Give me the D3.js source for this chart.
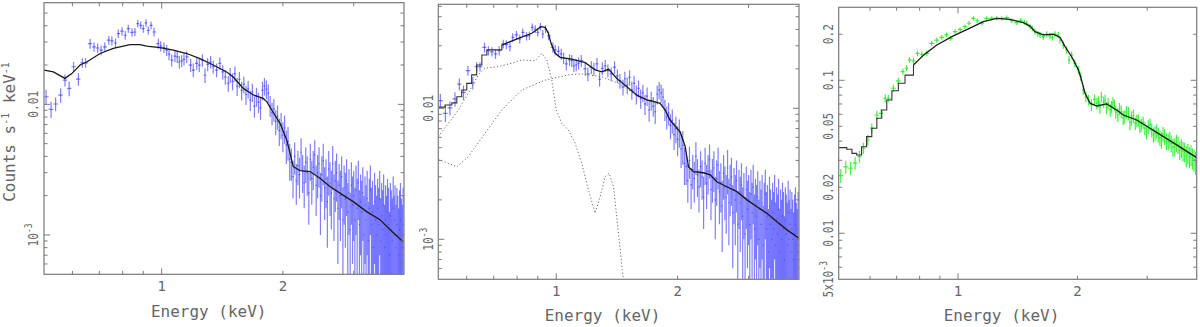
<!DOCTYPE html>
<html><head><meta charset="utf-8">
<script src="https://cdn.jsdelivr.net/npm/d3@7"></script>
<style>body{margin:0;background:#fff}svg{display:block}</style>
</head><body><script>
// ---------------- DATA ----------------
// shared spectrum (panels 1 and 2): energy (keV), counts s^-1 keV^-1, 1-sigma error
const energy12 = [0.516,0.531,0.545,0.561,0.575,0.589,0.604,0.621,0.635,0.647,0.664,0.679,0.693,0.707,0.722,0.739,0.752,0.768,0.780,0.797,0.812,0.826,0.844,0.858,0.872,0.887,0.900,0.914,0.926,0.941,0.957,0.981,0.994,1.013,1.029,1.043,1.059,1.079,1.093,1.106,1.121,1.136,1.154,1.180,1.198,1.222,1.240,1.262,1.281,1.301,1.323,1.343,1.369,1.395,1.418,1.439,1.464,
1.48,1.50,1.52,1.54,1.56,1.58,1.60,1.62,1.64,1.66,1.68,1.70,1.72,1.74,1.76,1.78,1.80,1.82,1.84,1.86,1.88,1.90,1.92,1.94,1.96,1.98,2.00,2.02,2.04,2.06,2.08,
2.10,2.12,2.14,2.16,2.18,2.20,2.22,2.24,2.26,2.28,2.30,2.32,2.34,2.36,2.38,2.40,2.42,2.44,2.46,2.48,2.50,2.52,2.54,2.56,2.58,2.60,2.62,2.64,2.66,2.68,2.70,2.72,2.74,2.76,2.78,2.80,2.82,2.84,2.86,2.88,2.90,2.92,2.94,2.96,2.98,3.00,3.02,3.04,3.06,3.08,3.10,3.12,3.14,3.16,3.18,3.20,3.22,3.24,3.26,3.28,3.30,3.32,3.34,3.36,3.38,3.40,3.42,3.44,3.46,3.48,3.50,3.52,3.54,3.56,3.58,3.60,3.62,3.64,3.66,3.68,3.70,3.72,3.74,3.76,3.78,3.80,3.82,3.84,3.86,3.88,3.90,3.92,3.94,3.96,3.98];
const counts12 = [0.01143,0.00916,0.01006,0.01178,0.0153,0.01325,0.0194,0.0156,0.0208,0.0208,0.0292,0.0275,0.027,0.026,0.0275,0.031,0.0306,0.0295,0.0348,0.0363,0.0338,0.038,0.0355,0.0358,0.0415,0.0403,0.038,0.042,0.0369,0.0403,0.0358,0.0292,0.0279,0.0272,0.026,0.0242,0.0218,0.0234,0.0231,0.0211,0.0215,0.0221,0.0231,0.020,0.0183,0.0206,0.020,0.0218,0.0167,0.0202,0.0211,0.0194,0.0183,0.0206,0.0177,0.0162,0.0145,
0.0168,0.0150,0.0172,0.0138,0.0155,0.0128,0.0142,0.0119,0.0131,0.0108,0.0124,0.0097,0.0115,0.0104,0.0094,0.0128,0.0138,0.0131,0.0122,0.0098,0.0086,0.0092,0.0074,0.0081,0.0063,0.0070,0.0058,0.0066,0.0049,0.0052,0.0038,
0.0036,0.0028,0.0040,0.0026,0.0034,0.0029,0.0043,0.0031,0.0025,0.0036,0.0030,0.0021,0.0038,0.0027,0.0033,0.0041,0.0024,0.0030,0.0035,0.0020,0.0029,0.0037,0.0023,0.0027,0.0018,0.0032,0.0025,0.0021,0.0035,0.0019,0.0026,0.0030,0.0016,0.0024,0.0020,0.0028,0.0013,0.0023,0.0019,0.0026,0.0015,0.0021,0.0011,0.0024,0.0017,0.0020,0.0013,0.0022,0.0016,0.0025,0.0012,0.0018,0.0015,0.0021,0.0010,0.0017,0.0013,0.0019,0.0009,0.0016,0.0022,0.0012,0.0015,0.0008,0.0018,0.0013,0.0010,0.0016,0.0012,0.0019,0.0009,0.0014,0.0011,0.0017,0.0008,0.0013,0.0010,0.0015,0.0012,0.0007,0.0014,0.0011,0.0009,0.0016,0.0010,0.0013,0.0008,0.0012,0.0010,0.0007,0.0011,0.0013,0.0009,0.0008,0.0012];
const err12 = [0.0015,0.0013,0.0012,0.0015,0.0016,0.0017,0.0017,0.0017,0.0017,0.0017,0.0025,0.0022,0.0022,0.0022,0.0022,0.0024,0.0024,0.0024,0.0026,0.0026,0.0026,0.0027,0.0026,0.0026,0.0028,0.0028,0.0027,0.0028,0.0027,0.0028,0.0027,0.0026,0.0025,0.0025,0.0025,0.0024,0.0023,0.0024,0.0024,0.0023,0.0023,0.0023,0.0024,0.0023,0.0022,0.0023,0.0023,0.0024,0.0021,0.0023,0.0023,0.0022,0.0022,0.0023,0.0022,0.0021,0.0020,
0.0022,0.0022,0.0023,0.0022,0.0022,0.0021,0.0021,0.0020,0.0020,0.0019,0.0020,0.0018,0.0019,0.0018,0.0018,0.0021,0.0021,0.0021,0.0020,0.0018,0.0017,0.0018,0.0016,0.0017,0.0015,0.0016,0.0015,0.0016,0.0014,0.0015,0.0012,
0.0010,0.0009,0.0011,0.0009,0.0010,0.0010,0.0012,0.0010,0.0009,0.0011,0.0010,0.0009,0.0012,0.0010,0.0011,0.0012,0.0010,0.0011,0.0012,0.0010,0.0011,0.0013,0.0010,0.0011,0.0010,0.0012,0.0011,0.0010,0.0013,0.0010,0.0011,0.0012,0.0010,0.0011,0.0011,0.0012,0.0010,0.0011,0.0011,0.0012,0.0010,0.0011,0.0010,0.0012,0.0011,0.0011,0.0010,0.0012,0.0011,0.0012,0.0010,0.0011,0.0011,0.0012,0.0010,0.0011,0.0011,0.0012,0.0009,0.0011,0.0012,0.0011,0.0011,0.0009,0.0012,0.0011,0.0010,0.0011,0.0011,0.0012,0.0010,0.0011,0.0011,0.0012,0.0009,0.0011,0.0010,0.0012,0.0011,0.0008,0.0011,0.0011,0.0010,0.0012,0.0010,0.0011,0.0009,0.0011,0.0010,0.0009,0.0011,0.0012,0.0010,0.0009,0.0011];

// panel 1 model
const model1E = [0.51,0.538,0.575,0.598,0.627,0.651,0.703,0.758,0.834,0.883,0.918,0.99,1.069,1.154,1.245,1.343,1.45,1.506,1.595,1.689,1.788,1.824,1.877,1.968,2.045,2.084,2.123,2.206,2.336,2.474,2.619,2.773,2.992,3.23,3.486,3.69,3.97];
const model1V = [0.0183,0.0177,0.0158,0.0172,0.020,0.0211,0.0245,0.0268,0.0287,0.0287,0.0279,0.0272,0.026,0.0245,0.0224,0.020,0.0177,0.0162,0.01325,0.0118,0.0111,0.0105,0.00905,0.00716,0.00534,0.00423,0.00334,0.00311,0.00306,0.00272,0.00235,0.00209,0.0018,0.00151,0.00131,0.0011,0.00089];

// panel 2 model and its two components
const model2E = [0.51,0.530,0.551,0.567,0.583,0.600,0.617,0.635,0.654,0.673,0.733,0.806,0.870,0.917,0.939,0.956,0.971,0.994,1.023,1.093,1.18,1.249,1.298,1.348,1.414,1.497,1.585,1.678,1.76,1.81,1.863,1.917,2.03,2.089,2.128,2.19,2.319,2.41,2.503,2.651,2.806,2.972,3.147,3.33,3.527,3.735,4.0];
const model2V = [0.0102,0.0106,0.0110,0.01226,0.0138,0.0155,0.018,0.0214,0.0255,0.0279,0.0304,0.0342,0.0374,0.042,0.0415,0.0374,0.0313,0.0263,0.0245,0.0237,0.0223,0.0196,0.019,0.0199,0.0169,0.0146,0.0126,0.0116,0.0112,0.0109,0.0097,0.0081,0.0066,0.0051,0.00358,0.00328,0.00322,0.0031,0.00275,0.00252,0.00231,0.0020,0.00177,0.00158,0.00136,0.00118,0.00102];
const compAE = [0.51,0.540,0.572,0.605,0.641,0.666,0.719,0.776,0.821,0.886,0.921,0.948,0.975,1.0,1.032,1.072,1.114,1.157,1.202,1.249,1.285,1.322,1.353,1.387,1.427,1.468,1.50];
const compAV = [0.00607,0.00768,0.0097,0.013,0.018,0.0202,0.0208,0.0221,0.0234,0.023,0.0263,0.0234,0.0164,0.0097,0.00768,0.00683,0.0054,0.0038,0.00238,0.00158,0.00211,0.0030,0.00319,0.00252,0.00111,0.00048,0.0002];
const compBE = [0.51,0.567,0.605,0.666,0.733,0.821,0.939,1.072,1.157,1.298,1.427,1.497,1.585,1.678,1.76,1.81,1.863,1.917,2.03,2.089,2.128,2.19,2.319,2.41,2.503,2.651,2.806,2.972,3.147,3.33,3.527,3.735,4.0];
const compBV = [0.00408,0.00358,0.00427,0.00644,0.0097,0.0138,0.0164,0.018,0.0183,0.0174,0.0155,0.0142,0.0124,0.0115,0.0111,0.0108,0.0096,0.0080,0.0065,0.0050,0.00355,0.00325,0.0032,0.00308,0.00273,0.0025,0.0023,0.00199,0.00176,0.00157,0.00135,0.00117,0.00101];

// panel 3 model and data
const model3E = [0.5,0.524,0.54,0.555,0.571,0.588,0.606,0.624,0.642,0.661,0.681,0.707,0.735,0.772,0.818,0.884,0.973,1.072,1.158,1.252,1.352,1.461,1.519,1.564,1.641,1.74,1.808,1.862,1.935,2.012,2.05,2.091,2.153,2.238,2.37,2.513,2.612,2.823,3.05,3.296,3.56,4.0];
const model3V = [0.0363,0.0354,0.0333,0.0325,0.0368,0.0428,0.0486,0.0565,0.064,0.0743,0.0855,0.0956,0.108,0.126,0.146,0.170,0.195,0.219,0.2415,0.254,0.25,0.238,0.226,0.208,0.198,0.20,0.191,0.166,0.1426,0.117,0.10,0.0822,0.0708,0.0679,0.070,0.064,0.0593,0.055,0.0486,0.0428,0.0378,0.0312];
const energy3 = [0.506,0.521,0.536,0.550,0.564,0.577,0.592,0.606,0.624,0.640,0.655,0.667,0.687,0.707,0.726,0.742,0.754,0.772,0.790,0.810,0.834,0.858,0.884,0.910,0.936,0.958,0.983,1.012,1.041,1.066,1.093,1.118,1.148,1.181,1.216,1.252,1.289,1.327,1.366,1.406,1.44,1.47,1.49,1.519,1.54,1.564,1.59,1.61,1.641,1.674,1.706,1.73,1.756,1.79,1.808,1.844,1.88,1.906,1.935,1.971,2.012,2.04,2.07,2.101,2.133,2.17,2.21,2.24,2.26,2.28,2.30,2.33,2.35,2.37,2.39,2.42,2.44,2.46,2.48,2.50,2.53,2.555,2.58,2.61,2.635,2.66,2.69,2.715,2.74,2.77,2.80,2.825,2.85,2.875,2.90,2.93,2.96,2.99,3.02,3.05,3.08,3.11,3.14,3.17,3.20,3.23,3.26,3.29,3.32,3.355,3.39,3.42,3.45,3.485,3.52,3.555,3.59,3.625,3.66,3.695,3.73,3.765,3.80,3.835,3.87,3.905,3.94,3.975];
const counts3 = [0.0238,0.0272,0.0266,0.0287,0.0317,0.036,0.0407,0.0486,0.0593,0.0608,0.0763,0.0763,0.0887,0.099,0.114,0.12,0.136,0.134,0.15,0.148,0.15,0.1745,0.183,0.191,0.198,0.188,0.208,0.215,0.224,0.236,0.254,0.245,0.236,0.254,0.254,0.254,0.254,0.257,0.245,0.238,0.246,0.24,0.236,0.224,0.218,0.208,0.201,0.198,0.193,0.2,0.195,0.19,0.2,0.198,0.183,0.17,0.158,0.136,0.146,0.129,0.117,0.106,0.0865,0.078,0.0743,0.069,0.075,0.0705,0.0725,0.0665,0.078,0.072,0.0743,0.066,0.0707,0.064,0.0672,0.0715,0.069,0.062,0.0593,0.065,0.0624,0.057,0.058,0.062,0.0608,0.053,0.0565,0.0585,0.0524,0.0545,0.055,0.05,0.051,0.053,0.0486,0.046,0.0497,0.0512,0.0474,0.044,0.045,0.0465,0.044,0.042,0.0407,0.0445,0.0428,0.04,0.0397,0.041,0.0387,0.0365,0.0368,0.039,0.0378,0.035,0.036,0.0345,0.0341,0.032,0.0333,0.0315,0.0325,0.031,0.0302,0.029];
const err3 = [0.0025,0.0026,0.0026,0.0027,0.0028,0.003,0.0032,0.0035,0.004,0.004,0.0045,0.0045,0.0048,0.005,0.0055,0.0055,0.006,0.006,0.0065,0.0065,0.0065,0.007,0.007,0.007,0.007,0.007,0.0075,0.0075,0.0075,0.008,0.008,0.008,0.008,0.008,0.008,0.008,0.008,0.008,0.008,0.008,0.009,0.009,0.009,0.009,0.009,0.009,0.009,0.009,0.009,0.009,0.009,0.009,0.009,0.009,0.009,0.009,0.009,0.008,0.008,0.008,0.007,0.007,0.006,0.006,0.006,0.006,0.006,0.006,0.006,0.006,0.006,0.006,0.006,0.006,0.006,0.006,0.006,0.006,0.006,0.006,0.006,0.006,0.006,0.006,0.006,0.006,0.006,0.006,0.006,0.006,0.005,0.005,0.005,0.005,0.005,0.005,0.005,0.005,0.005,0.005,0.005,0.005,0.005,0.005,0.005,0.005,0.005,0.005,0.005,0.005,0.005,0.005,0.005,0.005,0.005,0.005,0.005,0.005,0.005,0.005,0.005,0.005,0.005,0.005,0.005,0.005,0.005,0.005];

// tick labels
const xTickValues = [1, 2];
const xTickLabels = ["1", "2"];
const yTickValues12 = [0.01, 0.001];
const yTickLabels12 = [["0.01", ""], ["10", "-3"]];
const yTickValues3 = [0.2, 0.1, 0.05, 0.02, 0.01, 0.005];
const yTickLabels3 = [["0.2",""],["0.1",""],["0.05",""],["0.02",""],["0.01",""],["5x10","-3"]];
const xTitle = "Energy (keV)";
const yTitle = [["Counts s",""],["-1","sup"],[" keV",""],["-1","sup"]];

// ---------------- DRAW ----------------
const W = 1200, H = 327;
const svg = d3.select("body").append("svg").attr("width", W).attr("height", H);
const AX = "#7a7a7a", TXT = "#666";
const MONO = "'DejaVu Sans Mono', monospace";

const panels = [
  {id:1, l:44, r:404, t:2.7, b:274.3, xd:[0.51,4.0], yd:[5e-4,0.06], yt:yTickValues12, yl:yTickLabels12, ylx:33, titleX:208.7, titleY:316.7, stepTo:0},
  {id:2, l:438.3, r:799, t:4.3, b:279.3, xd:[0.51,4.0], yd:[4.95e-4,0.0622], yt:yTickValues12, yl:yTickLabels12, ylx:428, titleX:602.5, titleY:320.7, stepTo:0.68},
  {id:3, l:838.7, r:1196.7, t:7.3, b:279.3, xd:[0.5,4.0], yd:[5e-3,0.3], yt:yTickValues3, yl:yTickLabels3, ylx:828, titleX:1001.5, titleY:321, stepTo:0.74}
];

function binEdges(E){
  return E.map((e,i)=>{
    const lo = i>0 ? Math.sqrt(E[i-1]*e) : e*e/Math.sqrt(e*E[i+1]);
    const hi = i<E.length-1 ? Math.sqrt(E[i+1]*e) : e*e/Math.sqrt(e*E[i-1]);
    return [lo,hi];
  });
}

panels.forEach(p=>{
  const x = d3.scaleLog().domain(p.xd).range([p.l,p.r]);
  const y = d3.scaleLog().domain(p.yd).range([p.b,p.t]);
  const g = svg.append("g");
  const cid = "clip"+p.id;
  svg.append("clipPath").attr("id",cid).append("rect")
    .attr("x",p.l).attr("y",p.t).attr("width",p.r-p.l).attr("height",p.b-p.t);
  const plot = g.append("g").attr("clip-path",`url(#${cid})`);

  // data with error bars
  let E,V,S,col,op;
  if(p.id<3){E=energy12;V=counts12;S=err12;col="#2f2fff";op=0.62;}
  else {E=energy3;V=counts3;S=err3;col="#22ee22";op=0.85;}
  const edges = binEdges(E);
  const pts = E.map((e,i)=>({e,v:V[i],s:S[i],lo:edges[i][0],hi:edges[i][1]}));
  const dg = plot.append("g").attr("stroke",col).attr("stroke-opacity",op).attr("stroke-width",1.2);
  dg.selectAll("line.v").data(pts).join("line").attr("class","v")
    .attr("x1",d=>x(d.e)).attr("x2",d=>x(d.e))
    .attr("y1",d=>y(d.v+d.s))
    .attr("y2",d=>d.v-d.s>0 ? y(d.v-d.s) : p.b+5);
  dg.selectAll("line.h").data(pts).join("line").attr("class","h")
    .attr("x1",d=>x(d.lo)).attr("x2",d=>x(d.hi))
    .attr("y1",d=>y(d.v)).attr("y2",d=>y(d.v));

  const line = d3.line().x(d=>x(d[0])).y(d=>y(d[1])).curve(d3.curveLinear);
  const stepLine = d3.line().x(d=>x(d[0])).y(d=>y(d[1])).curve(d3.curveStepAfter);
  if(p.id===2){
    [[compAE,compAV],[compBE,compBV]].forEach(([ce,cv])=>{
      plot.append("path").datum(d3.zip(ce,cv)).attr("d",line)
        .attr("fill","none").attr("stroke","#6a6a6a").attr("stroke-width",1).attr("stroke-dasharray","1.2,2.2");
    });
  }
  const mE = p.id===1?model1E:p.id===2?model2E:model3E;
  const mV = p.id===1?model1V:p.id===2?model2V:model3V;
  const mz = d3.zip(mE,mV);
  let split = mE.findIndex(e=>e>=p.stepTo);
  if(split>0){
    plot.append("path").datum(mz.slice(0,split+1)).attr("d",stepLine)
      .attr("fill","none").attr("stroke","#333").attr("stroke-width",1.1);
  } else split = 0;
  plot.append("path").datum(mz.slice(split)).attr("d",line)
    .attr("fill","none").attr("stroke","#1a1a1a").attr("stroke-width",1.3);

  // frame
  g.append("rect").attr("x",p.l).attr("y",p.t).attr("width",p.r-p.l).attr("height",p.b-p.t)
    .attr("fill","none").attr("stroke",AX).attr("stroke-width",1.2);

  // ticks
  const isMajor = v => Math.abs(Math.log10(v)-Math.round(Math.log10(v)))<1e-6;
  const tg = g.append("g").attr("stroke",AX).attr("stroke-width",1);
  x.ticks().filter(v=>x(v)>p.l+1 && x(v)<p.r-1).forEach(v=>{
    const len = isMajor(v)?6:3.5;
    tg.append("line").attr("x1",x(v)).attr("x2",x(v)).attr("y1",p.b).attr("y2",p.b-len);
    tg.append("line").attr("x1",x(v)).attr("x2",x(v)).attr("y1",p.t).attr("y2",p.t+len);
  });
  y.ticks().filter(v=>y(v)>p.t+1 && y(v)<p.b-1).forEach(v=>{
    const len = isMajor(v)?6:3.5;
    tg.append("line").attr("y1",y(v)).attr("y2",y(v)).attr("x1",p.l).attr("x2",p.l+len);
    tg.append("line").attr("y1",y(v)).attr("y2",y(v)).attr("x1",p.r).attr("x2",p.r-len);
  });

  // x tick labels
  xTickValues.forEach((v,i)=>{
    g.append("text").attr("x",x(v)).attr("y",p.b+17).attr("text-anchor","middle")
      .attr("font-family",MONO).attr("font-size",14).attr("fill",TXT).text(xTickLabels[i]);
  });
  // y tick labels (rotated, condensed along text direction)
  p.yt.forEach((v,i)=>{
    const t = g.append("text").attr("transform",`translate(${p.ylx+5},${y(v)}) rotate(-90) scale(0.8,1)`)
      .attr("text-anchor","middle").attr("font-family",MONO).attr("font-size",14).attr("fill",TXT);
    t.append("tspan").text(p.yl[i][0]);
    if(p.yl[i][1]) t.append("tspan").attr("dy",-6).attr("font-size",10).text(p.yl[i][1]);
  });
  // x title
  g.append("text").attr("x",p.titleX).attr("y",p.titleY).attr("text-anchor","middle")
    .attr("font-family",MONO).attr("font-size",16).attr("fill",TXT).text(xTitle);
});

// y title (panel 1 only)
const yt = svg.append("text").attr("transform","translate(15,132) rotate(-90)")
  .attr("text-anchor","middle").attr("font-family",MONO).attr("font-size",16).attr("fill",TXT);
yTitle.forEach(([s,k])=>{
  if(k==="sup") yt.append("tspan").attr("dy",-6).attr("font-size",10).text(s);
  else yt.append("tspan").attr("dy",6).text(s);
});
yt.select("tspan").attr("dy",0);
</script></body></html>
